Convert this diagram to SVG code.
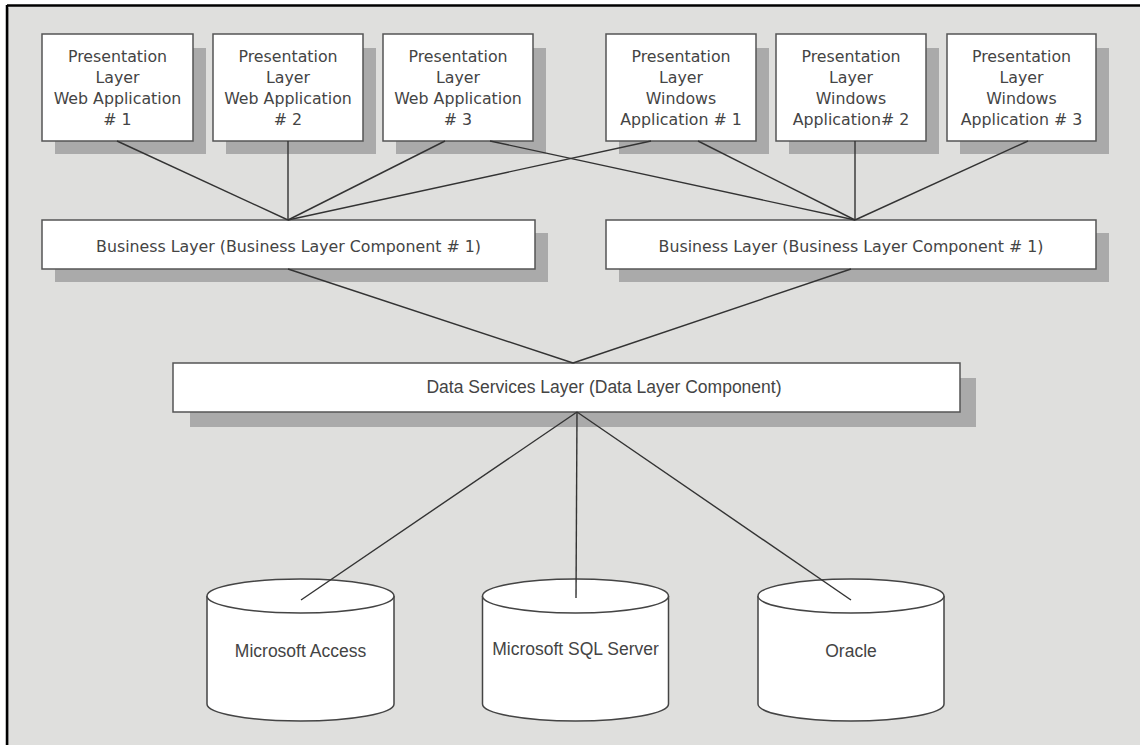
<svg xmlns="http://www.w3.org/2000/svg" width="1140" height="745" viewBox="0 0 1140 745">
<style>
.box{fill:#fff;stroke:#555;stroke-width:1.5}
.sh{fill:#aaaaaa}
.t{font-family:"DejaVu Sans",Verdana,sans-serif;font-size:15.8px;fill:#444;text-anchor:middle}
.n{font-family:"Liberation Sans",Arial,sans-serif;font-size:17.5px;fill:#444;text-anchor:middle}
.ln{stroke:#333;stroke-width:1.4;fill:none}
.cyl{fill:#fff;stroke:#444;stroke-width:1.5}
</style>
<rect x="0" y="0" width="1140" height="745" fill="#fff"/>
<rect x="7" y="6" width="1133" height="739" fill="#dfdfdd"/>
<line x1="8.5" y1="8" x2="8.5" y2="745" stroke="#b8b8b8" stroke-width="1"/>
<line x1="7" y1="5.5" x2="1140" y2="5.5" stroke="#000" stroke-width="2.5"/>
<line x1="7" y1="5" x2="7" y2="745" stroke="#000" stroke-width="2.5"/>

<g id="web1">
<rect class="sh" x="55" y="48" width="151" height="106"/>
<rect class="box" x="42" y="34" width="151" height="107"/>
<text class="t" x="117.5" y="61.5">Presentation</text>
<text class="t" x="117.5" y="82.5">Layer</text>
<text class="t" x="117.5" y="103.5">Web Application</text>
<text class="t" x="117.5" y="125"># 1</text>
</g>
<g id="web2">
<rect class="sh" x="226" y="48" width="150" height="106"/>
<rect class="box" x="213" y="34" width="150" height="107"/>
<text class="t" x="288" y="61.5">Presentation</text>
<text class="t" x="288" y="82.5">Layer</text>
<text class="t" x="288" y="103.5">Web Application</text>
<text class="t" x="288" y="125"># 2</text>
</g>
<g id="web3">
<rect class="sh" x="396" y="48" width="150" height="106"/>
<rect class="box" x="383" y="34" width="150" height="107"/>
<text class="t" x="458" y="61.5">Presentation</text>
<text class="t" x="458" y="82.5">Layer</text>
<text class="t" x="458" y="103.5">Web Application</text>
<text class="t" x="458" y="125"># 3</text>
</g>
<g id="win1">
<rect class="sh" x="619" y="48" width="150" height="106"/>
<rect class="box" x="606" y="34" width="150" height="107"/>
<text class="t" x="681" y="61.5">Presentation</text>
<text class="t" x="681" y="82.5">Layer</text>
<text class="t" x="681" y="103.5">Windows</text>
<text class="t" x="681" y="125">Application # 1</text>
</g>
<g id="win2">
<rect class="sh" x="789" y="48" width="150" height="106"/>
<rect class="box" x="776" y="34" width="150" height="107"/>
<text class="t" x="851" y="61.5">Presentation</text>
<text class="t" x="851" y="82.5">Layer</text>
<text class="t" x="851" y="103.5">Windows</text>
<text class="t" x="851" y="125">Application# 2</text>
</g>
<g id="win3">
<rect class="sh" x="960" y="48" width="149" height="106"/>
<rect class="box" x="947" y="34" width="149" height="107"/>
<text class="t" x="1021.5" y="61.5">Presentation</text>
<text class="t" x="1021.5" y="82.5">Layer</text>
<text class="t" x="1021.5" y="103.5">Windows</text>
<text class="t" x="1021.5" y="125">Application # 3</text>
</g>

<g id="biz1">
<rect class="sh" x="55" y="233" width="493" height="49"/>
<rect class="box" x="42" y="220" width="493" height="49"/>
<text class="t" x="288.5" y="252">Business Layer (Business Layer Component # 1)</text>
</g>
<g id="biz2">
<rect class="sh" x="619" y="233" width="490" height="49"/>
<rect class="box" x="606" y="220" width="490" height="49"/>
<text class="t" x="851" y="252">Business Layer (Business Layer Component # 1)</text>
</g>

<g id="data">
<rect class="sh" x="190" y="378" width="786" height="49"/>
<rect class="box" x="173" y="363" width="787" height="49"/>
<text class="n" x="604" y="393">Data Services Layer (Data Layer Component)</text>
</g>

<g id="access">
<path class="cyl" d="M207,596 L207,704 A93.5,17 0 0 0 394,704 L394,596"/>
<ellipse class="cyl" cx="300.5" cy="596" rx="93.5" ry="17"/>
<text class="n" x="300.5" y="657">Microsoft Access</text>
</g>
<g id="sqlserver">
<path class="cyl" d="M482.5,596 L482.5,704 A93,17 0 0 0 668.5,704 L668.5,596"/>
<ellipse class="cyl" cx="575.5" cy="596" rx="93" ry="17"/>
<text class="n" x="575.5" y="655">Microsoft SQL Server</text>
</g>
<g id="oracle">
<path class="cyl" d="M758,596 L758,704 A93,17 0 0 0 944,704 L944,596"/>
<ellipse class="cyl" cx="851" cy="596" rx="93" ry="17"/>
<text class="n" x="851" y="657">Oracle</text>
</g>

<g id="connectors">
<line class="ln" x1="117" y1="141" x2="288" y2="220"/>
<line class="ln" x1="288" y1="141" x2="288" y2="220"/>
<line class="ln" x1="445" y1="141" x2="288" y2="220"/>
<line class="ln" x1="651" y1="141" x2="288" y2="220"/>
<line class="ln" x1="490" y1="141" x2="855" y2="220"/>
<line class="ln" x1="698" y1="141" x2="855" y2="220"/>
<line class="ln" x1="855" y1="141" x2="855" y2="220"/>
<line class="ln" x1="1028" y1="141" x2="855" y2="220"/>
<line class="ln" x1="288" y1="269" x2="573" y2="363"/>
<line class="ln" x1="851" y1="269" x2="573" y2="363"/>
<line class="ln" x1="577" y1="412" x2="301" y2="600"/>
<line class="ln" x1="577" y1="412" x2="576" y2="598"/>
<line class="ln" x1="577" y1="412" x2="851" y2="600"/>
</g>
</svg>
